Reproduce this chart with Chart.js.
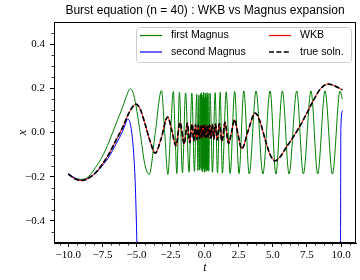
<!DOCTYPE html>
<html>
<head>
<meta charset="utf-8">
<script src="https://cdn.jsdelivr.net/npm/chart.js@4.4.1/dist/chart.umd.min.js"></script>
<style>
  html, body { margin: 0; padding: 0; background: #fff; }
  #wrap { width: 360px; height: 280px; }
</style>
</head>
<body>
<div id="wrap"><canvas id="chart"></canvas></div>
<script>
// true solution (WKB lies on top of it)
const tTrue = [-10.0, -9.5, -9.0, -8.5, -8.0, -7.5, -7.0, -6.5, -6.0, -5.5, -5.04, -4.73, -4.4, -4.0, -3.63, -3.2,
  -2.72, -2.4, -2.11, -1.80, -1.50, -1.27, -1.09, -0.93, -0.79, -0.67, -0.56, -0.46, -0.37, -0.28, -0.20, -0.12,
  -0.04, 0.04, 0.12, 0.20, 0.28, 0.37, 0.46, 0.56, 0.67, 0.79, 0.92, 1.08, 1.27, 1.49, 1.75, 2.0, 2.2, 2.45,
  2.72, 3.2, 3.7, 4.0, 4.5, 4.8, 5.16, 5.5, 6.0, 6.5, 7.0, 7.5, 8.0, 8.5, 9.07, 9.5, 10.1];
const xTrue = [-0.188, -0.210, -0.217, -0.206, -0.182, -0.143, -0.095, -0.035, 0.025, 0.095, 0.128, 0.106, 0.045, -0.040, -0.093, -0.030,
  0.070, 0.008, -0.060, 0.045, -0.052, 0.042, -0.046, 0.038, -0.038, 0.036, -0.032, 0.034, -0.028, 0.032, -0.024, 0.032,
  -0.022, 0.033, -0.022, 0.033, -0.024, 0.034, -0.026, 0.036, -0.030, 0.038, -0.034, 0.040, -0.040, 0.046, -0.050, 0.010, 0.058, -0.010,
  -0.074, 0.010, 0.088, 0.060, -0.045, -0.100, -0.128, -0.113, -0.066, -0.020, 0.030, 0.088, 0.148, 0.198, 0.219, 0.212, 0.193];
const tWkb = tTrue;
const xWkb = xTrue;

// first Magnus
const tFirst = [-10.0, -9.5, -9.0, -8.5, -8.0, -7.5, -7.0, -6.5, -6.0, -5.7, -5.46, -5.2, -4.73, -4.4, -4.07, -3.62,
  -3.17, -2.93, -2.70, -2.50, -2.30, -2.17, -2.04, -1.85, -1.63, -1.40, -1.15, -0.94, -0.75, -0.58,
  -0.49, -0.42, -0.36, -0.31, -0.27, -0.235, -0.205, -0.18, -0.155, -0.13, -0.105, -0.08, -0.06, -0.04,
  -0.02, 0.0, 0.02, 0.04, 0.06, 0.08, 0.10, 0.125, 0.15, 0.18, 0.21, 0.25, 0.30,
  0.40, 0.57, 0.77, 0.94, 1.14, 1.30, 1.58, 1.87, 2.20, 2.52, 2.87, 3.27, 3.77,
  4.27, 4.80, 5.22, 5.70, 6.19, 6.75, 7.24, 7.80, 8.29, 8.83, 9.37, 9.93, 10.1];
const xFirst = [-0.188, -0.207, -0.212, -0.198, -0.158, -0.108, -0.040, 0.040, 0.118, 0.170, 0.198, 0.170, 0.000, -0.140, -0.190, 0.000,
  0.190, 0.000, -0.190, 0.000, 0.186, 0.000, -0.186, 0.182, -0.182, 0.180, -0.180, 0.178, -0.176, 0.174,
  -0.172, 0.168, -0.170, 0.175, -0.160, 0.180, -0.172, 0.155, -0.178, 0.170, -0.150, 0.182, -0.165, 0.160,
  -0.180, 0.150, -0.170, 0.178, -0.158, 0.168, -0.176, 0.160, -0.168, 0.180, -0.172, 0.176, -0.175,
  0.178, -0.180, 0.180, -0.182, 0.182, -0.184, 0.184, -0.186, 0.186, -0.186, 0.188, -0.188, 0.188,
  -0.188, 0.188, -0.188, 0.188, -0.188, 0.188, -0.188, 0.188, -0.188, 0.188, -0.188, 0.188, 0.150];

// second Magnus (leaves the plot below -0.5, comes back at t = 10)
const tSecond = [-10.0, -9.0, -8.0, -7.5, -7.0, -6.5, -6.0, -5.8, -5.65, -5.5, -5.35, -5.2, -5.08, -4.97, -4.9,
  0.0, 9.96, 9.99, 10.12];
const xSecond = [-0.188, -0.217, -0.183, -0.150, -0.108, -0.052, 0.008, 0.040, 0.061, 0.050, 0.000, -0.100, -0.250, -0.500, -0.700,
  null, -0.700, 0.020, 0.100];

const xTicks = [-10, -7.5, -5, -2.5, 0, 2.5, 5, 7.5, 10];
const yTicks = [-0.4, -0.2, 0, 0.2, 0.4];

const titleText = 'Burst equation (n = 40) : WKB vs Magnus expansion';

function pts(ts, xs) {
  return ts.map((t, i) => ({ x: t, y: xs[i] }));
}
function fmt(v) {
  return v.toFixed(1).replace('-', '\u2212');
}

const decor = {
  id: 'decor',
  afterDatasetsDraw(chart) {
    const ctx = chart.ctx;
    const ca = chart.chartArea;
    const xs = chart.scales.x, ys = chart.scales.y;
    ctx.save();
    // minor ticks
    ctx.strokeStyle = '#000';
    ctx.lineWidth = 0.8;
    ctx.beginPath();
    for (let i = -17; i <= 17; i++) {
      if (i % 4 === 0) continue;
      const px = Math.round(xs.getPixelForValue(i * 0.625)) + 0.5;
      ctx.moveTo(px, ca.bottom);
      ctx.lineTo(px, ca.bottom + 2.5);
    }
    for (let i = -9; i <= 9; i++) {
      if (i % 4 === 0) continue;
      const py = Math.round(ys.getPixelForValue(i * 0.05)) + 0.5;
      ctx.moveTo(ca.left, py);
      ctx.lineTo(ca.left - 2.5, py);
    }
    ctx.stroke();
    // frame
    ctx.lineWidth = 1;
    ctx.strokeRect(ca.left + 0.5, ca.top + 0.5, ca.right - ca.left - 1, ca.bottom - ca.top - 1);
    // title
    ctx.fillStyle = '#000';
    ctx.font = '12px "Liberation Sans"';
    ctx.textAlign = 'center';
    ctx.textBaseline = 'middle';
    ctx.fillText(titleText, (ca.left + ca.right) / 2, 11);
    // legend
    const bw = 215, bh = 35;
    const bx = Math.round(ca.right - 5 - bw), by = Math.round(ca.top + 5);
    ctx.fillStyle = 'rgba(255,255,255,0.8)';
    ctx.strokeStyle = '#cccccc';
    ctx.lineWidth = 1;
    ctx.beginPath();
    ctx.roundRect(bx + 0.5, by + 0.5, bw, bh, 3);
    ctx.fill();
    ctx.stroke();
    const items = [
      { label: 'first Magnus', color: '#008000', dash: [], col: 0, row: 0, w: 1.2 },
      { label: 'second Magnus', color: '#0000ff', dash: [], col: 0, row: 1, w: 1.2 },
      { label: 'WKB', color: '#ff0000', dash: [], col: 1, row: 0, w: 1.2 },
      { label: 'true soln.', color: '#000000', dash: [5, 2.4], col: 1, row: 1, w: 1.6 }
    ];
    ctx.font = '10.6px "Liberation Sans"';
    ctx.textAlign = 'left';
    items.forEach(it => {
      const lx = bx + (it.col ? 133 : 4);
      const ly = by + (it.row ? 25 : 8.5);
      ctx.setLineDash(it.dash);
      ctx.strokeStyle = it.color;
      ctx.lineWidth = it.w;
      ctx.beginPath();
      ctx.moveTo(lx, ly);
      ctx.lineTo(lx + 22, ly);
      ctx.stroke();
      ctx.setLineDash([]);
      ctx.fillStyle = '#000';
      ctx.fillText(it.label, lx + 31, ly);
    });
    ctx.restore();
  }
};

const tickFont = { family: '"Liberation Serif"', size: 11 };

new Chart(document.getElementById('chart'), {
  type: 'line',
  data: {
    datasets: [
      { label: 'true soln.', data: pts(tTrue, xTrue), borderColor: '#000', borderWidth: 1.7,
        borderDash: [5, 2.4], order: 1 },
      { label: 'WKB', data: pts(tWkb, xWkb), borderColor: '#ff0000', borderWidth: 1, order: 2 },
      { label: 'second Magnus', data: pts(tSecond, xSecond), borderColor: '#0000ff', borderWidth: 1, order: 3 },
      { label: 'first Magnus', data: pts(tFirst, xFirst), borderColor: '#008000', borderWidth: 1, order: 4 }
    ]
  },
  options: {
    responsive: true,
    maintainAspectRatio: false,
    animation: false,
    events: [],
    layout: { padding: { top: 22, right: 4, left: 0, bottom: 0 } },
    elements: {
      point: { radius: 0 },
      line: { cubicInterpolationMode: 'monotone', fill: false }
    },
    plugins: { legend: { display: false }, tooltip: { enabled: false }, title: { display: false } },
    scales: {
      x: {
        type: 'linear',
        min: -11.05,
        max: 11.1,
        afterBuildTicks: s => { s.ticks = xTicks.map(v => ({ value: v })); },
        afterFit: s => { s.height = 37; },
        ticks: { callback: v => fmt(v), font: tickFont, color: '#000', padding: 2, autoSkip: false, maxRotation: 0 },
        grid: { drawOnChartArea: false, drawTicks: true, tickLength: 4, tickColor: '#000', tickWidth: 1 },
        border: { display: true, color: '#000', width: 1 },
        title: { display: true, text: 't', color: '#000', font: { family: '"Liberation Serif"', size: 12, style: 'italic' },
          padding: { top: 0, bottom: 5 } }
      },
      y: {
        type: 'linear',
        min: -0.5,
        max: 0.5,
        afterBuildTicks: s => { s.ticks = yTicks.map(v => ({ value: v })); },
        afterFit: s => { s.width = 54; },
        ticks: { callback: v => fmt(v), font: tickFont, color: '#000', padding: 5, autoSkip: false },
        grid: { drawOnChartArea: false, drawTicks: true, tickLength: 4, tickColor: '#000', tickWidth: 1 },
        border: { display: true, color: '#000', width: 1 },
        title: { display: true, text: 'x', color: '#000', font: { family: '"Liberation Serif"', size: 12, style: 'italic' },
          padding: { top: 16, bottom: 0 } }
      }
    }
  },
  plugins: [decor]
});
</script>
</body>
</html>
